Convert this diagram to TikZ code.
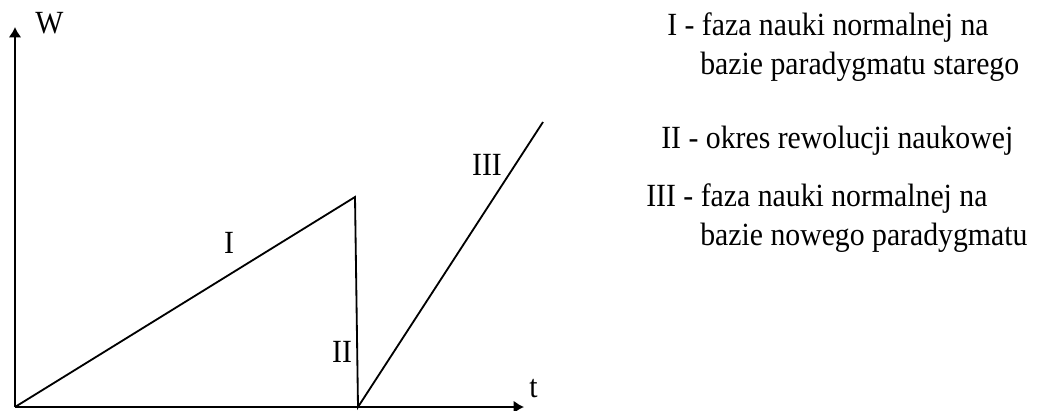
\documentclass[tikz,border=0pt]{standalone}
\usepackage{fontspec}
\setmainfont{Liberation Serif}
\newfontfamily\diagfont[FakeStretch=0.92]{Liberation Serif}
\usetikzlibrary{arrows.meta}
\tikzset{
  axis/.style={line width=1.3pt, draw=black, -{Latex[length=2.6mm, width=3.2mm]}},
  curve/.style={line width=1.3pt, draw=black, line join=miter},
  lbl/.style={font=\diagfont\fontsize{23}{27}\selectfont, inner sep=0pt},
  legend/.style={font=\diagfont\fontsize{23}{27}\selectfont, inner sep=0pt, anchor=base west},
}

\begin{document}
\begin{tikzpicture}[x=0.025cm, y=-0.025cm]
  \useasboundingbox (0,0) rectangle (1038,410);
  % axes
  \coordinate (origin) at (15,407);
  \coordinate (wtip) at (15,27);
  \coordinate (ttip) at (524,407);
  \draw[axis] (origin) -- (wtip);
  \draw[axis] (origin) -- (ttip);
  \node[lbl, anchor=base west] (wlab) at (35,33) {W};
  \node[lbl, anchor=base west] (tlab) at (529,397) {t};
  % the three phases
  \coordinate (peak) at (355,197);
  \coordinate (drop) at (358,407);
  \coordinate (rise) at (543,122);
  \draw[curve] (origin) -- (peak) -- (drop) -- (rise);
  \node[lbl] (one) at (229,243) {I};
  \node[lbl] (two) at (342,352) {II};
  \node[lbl] (three) at (487,165) {III};
  % legend
  \node[legend] (legI) at (667,35) {I - faza nauki normalnej na};
  \node[legend] (legIb) at (700,74) {bazie paradygmatu starego};
  \node[legend] (legII) at (661,148) {II - okres rewolucji naukowej};
  \node[legend] (legIII) at (646,206) {III - faza nauki normalnej na};
  \node[legend] (legIIIb) at (700,245) {bazie nowego paradygmatu};
\end{tikzpicture}
\end{document}
